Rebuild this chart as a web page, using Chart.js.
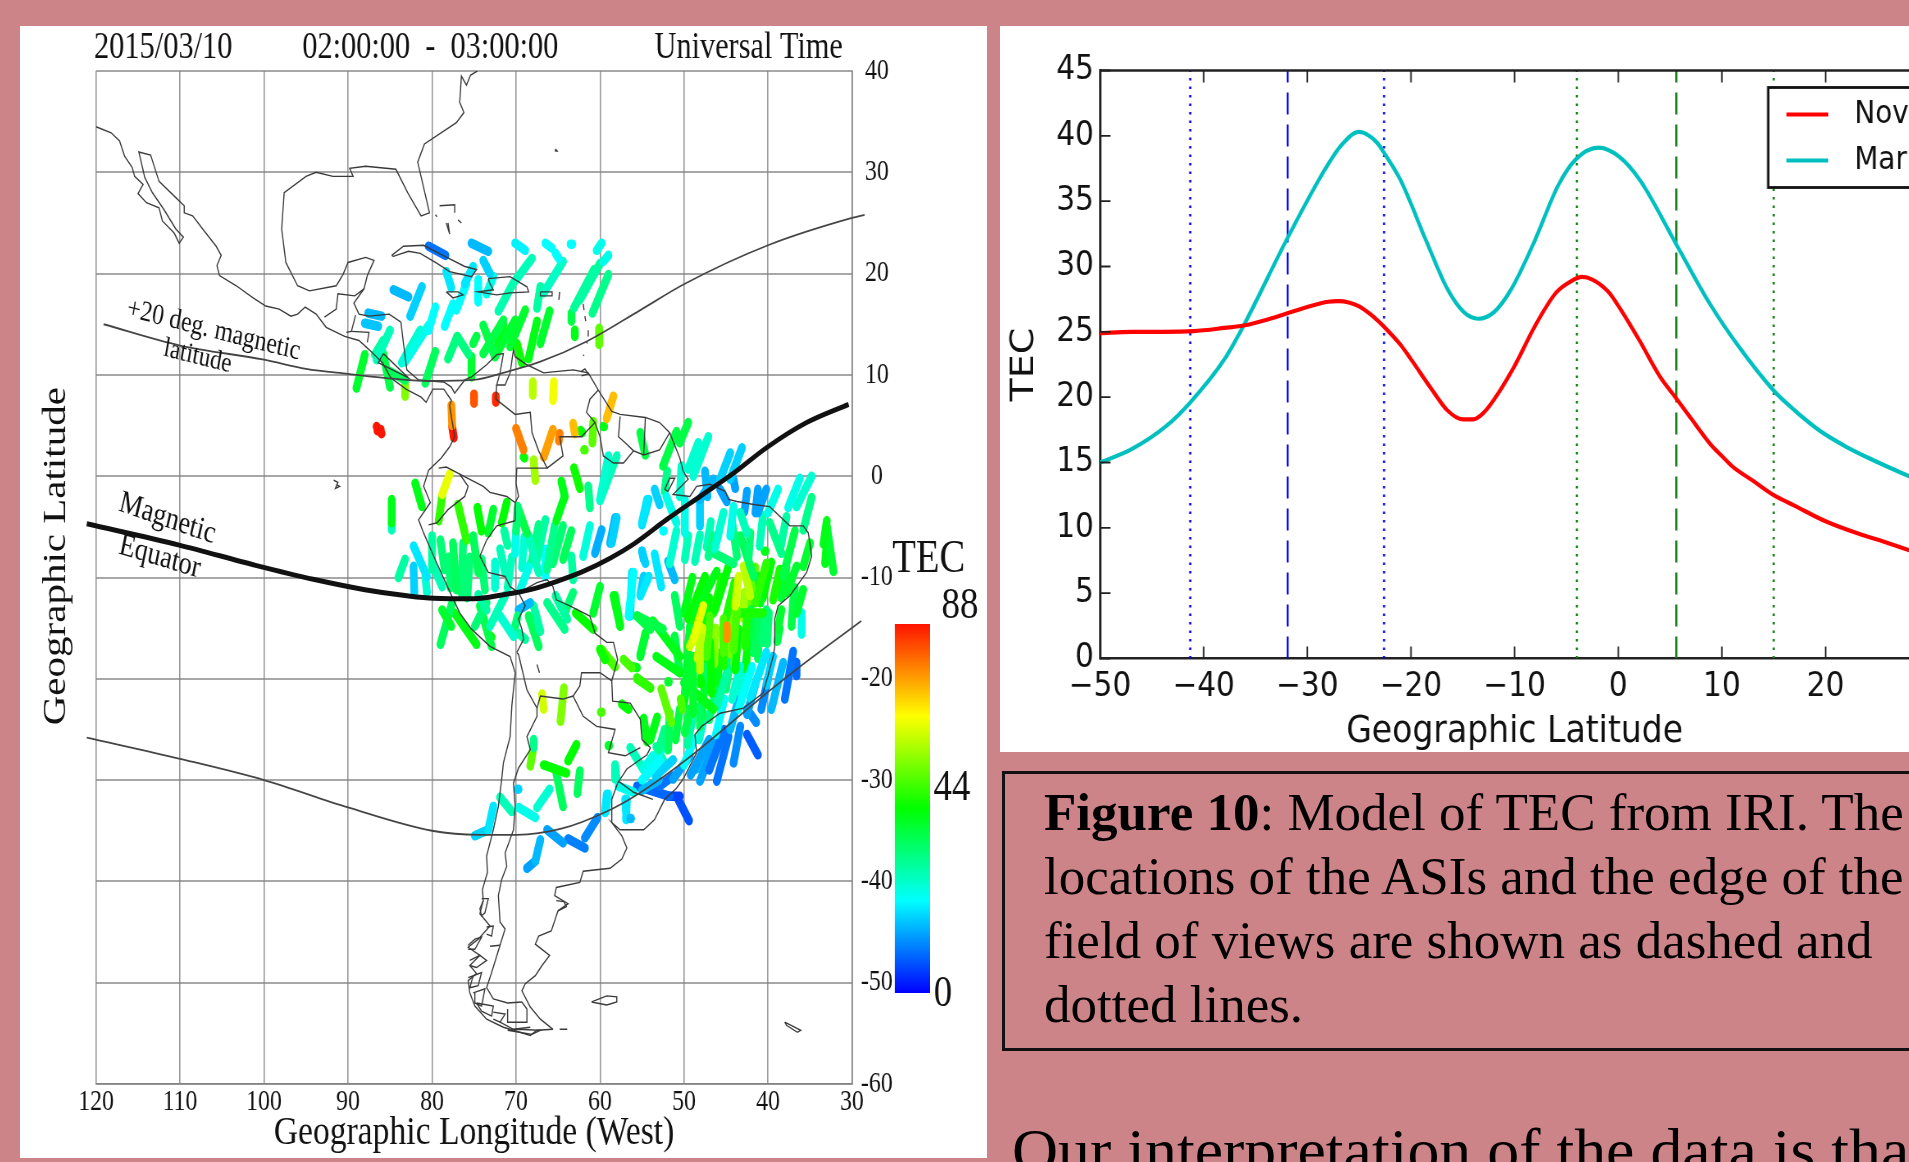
<!DOCTYPE html>
<html>
<head>
<meta charset="utf-8">
<title>Figure 10</title>
<script src="https://cdn.jsdelivr.net/npm/chart.js@4/dist/chart.umd.min.js"></script>
<style>
  html, body { margin: 0; height: 100%; background: #cd8488; overflow: hidden; }
  .panel { position: absolute; background: #fff; }
  canvas { position: absolute; transform-origin: 0 0; filter: blur(0.7px); }
  #captionBox { position: absolute; left: 1002px; top: 771px; width: 1000px; height: 274px; border: 3px solid #111; }
  .line { position: absolute; white-space: nowrap; transform-origin: 0 0; font-family: "Liberation Serif", serif; color: #000; filter: blur(0.4px); }
  .caption { left: 1044px; font-size: 53px; line-height: 60px; transform: scaleX(1); }
  .body { left: 1012px; top: 1115px; font-size: 62px; line-height: 70px; transform: scaleX(1.03); }
</style>
</head>
<body>
<div class="panel" style="left:20px;top:26px;width:967px;height:1132px"></div>
<div class="panel" style="left:1000px;top:26px;width:909px;height:726px"></div>
<canvas id="mapChart" width="1179" height="1132" style="left:20px;top:26px;transform:scaleX(0.82)"></canvas>
<canvas id="tecBar" width="134" height="500" style="left:880px;top:530px;transform:scaleX(0.82)"></canvas>
<canvas id="modelChart" width="1103" height="726" style="left:1000px;top:26px;transform:scaleX(0.87)"></canvas>
<div id="captionBox"></div>
<div class="line caption" style="top:782px"><b>Figure 10</b>: Model of TEC from IRI. The</div>
<div class="line caption" style="top:846px">locations of the ASIs and the edge of the</div>
<div class="line caption" style="top:910px">field of views are shown as dashed and</div>
<div class="line caption" style="top:974px">dotted lines.</div>
<div class="line body">Our interpretation of the data is that</div>
<script>
// ---- map panel: coastlines, [lon west, lat]
const coastWest = [[120,34.5],[118.2,33.9],[117.2,33.1],[116.6,31.6],[115.7,30.5],[115.4,29.6],[114.4,28.8],[115,27.9],[114,27],[112.5,26.5],[112.1,25.2],[110.7,24],[110.1,23],[109.6,23.6],[110.5,24.4],[111.9,26.3],[113.3,28],[114.2,29.5],[114.9,32],[113.5,31.7],[112.5,29.1],[110.5,27.5],[109.5,26.7],[109.5,26],[108.5,25.7],[107.3,24.4],[105.7,22.7],[105.1,21.8],[105.6,20.8],[105.3,19.8],[103.3,18.8],[101.3,17.6],[99.8,16.8],[98.2,16.5],[96.8,15.8],[96,16],[95.1,16.7],[93.8,16],[92.6,14.7],[90.4,13.8],[88.7,13.4],[87.5,12.5],[85.9,11.2],[84.9,9.7],[83.1,8.6],[81.3,7.8],[80.7,7.3],[79.9,8.6],[79.4,8.6],[78.6,8.6],[77.7,7.5],[77.9,7],[77.7,5.9],[77.3,3.9],[77.9,2.9],[78.9,1.8],[80.4,0.6],[81,-1],[80.2,-2.6],[81.6,-4.3],[81,-5.6],[79.8,-7.9],[78,-11.2],[76.7,-13.5],[75.3,-15.1],[73.1,-16.8],[70.7,-17.8],[70.1,-19.4],[70.5,-22.7],[70.7,-25.7],[71.5,-28.3],[71.7,-29.9],[72.1,-32.6],[72.7,-34.9],[73.5,-37.5],[73.4,-39.1],[74,-40.8],[73.9,-41.9],[74.3,-43.2],[73.1,-44.4],[74.5,-45.7],[75.7,-46.5],[74.3,-47.3],[75.5,-48.3],[74.7,-49.1],[75.7,-49.8],[75.5,-51],[74.9,-52.3],[73.5,-53.6],[71.5,-54.4],[68.3,-55.2],[67.5,-54.7],[65.6,-54.6]];
const coastGulf = [[83.7,15.2],[85.1,16],[87.5,15.8],[88.7,16],[89.3,17.1],[88.1,18.5],[87.7,19.8],[86.9,21.3],[87.9,21.6],[90,21.1],[90.6,19.9],[91.4,18.8],[94.6,18.3],[96,18.8],[97.4,21.1],[97.9,24.4],[97.6,28],[95,29.6],[93.8,30],[91.8,29.6],[89.4,29.6],[89.8,30.4],[87.9,30.6],[84.3,30.3],[82.9,28],[81.3,25.7],[80.3,26],[81.7,31],[80.9,32.8],[77.1,34.9],[76.2,35.9],[76.7,36.9],[76.5,39.5],[75.9,38.6],[75.4,39.6],[74.6,40]];
const coastCaribbean = [[83.7,15.2],[83.4,13.1],[83,10.5],[81.6,9.5],[80.2,9.4],[78.6,9.3],[77.7,8.8],[77.3,8.2],[76.1,9.5],[75.3,9.8],[73.5,11],[72.3,12],[71.5,12.1],[71.9,10.2],[72.3,9],[71.3,9],[70.7,10.2],[70.3,12.5],[70.1,11.8],[68.7,11],[66.7,10.2],[65.6,10.3],[63.2,10.5],[61.4,10.2],[60.2,8.5],[58.6,6.4],[57.6,6.1],[54.6,5.8],[52.9,5.3],[51.7,4.3],[50.5,1.8],[50.1,0.5],[49.5,-0.3],[51.3,-1.8],[49.3,-2],[48.5,-1],[46.9,-0.8],[45.1,-1.5],[44.7,-2.3],[43.7,-2.5],[41.7,-2.8],[39.8,-3],[37.4,-4.9],[35.8,-4.9],[35.2,-5.6],[34.8,-7.9],[35.4,-9.5],[37.4,-11.8],[38.8,-12.8],[39.2,-14.1],[39.2,-16.9],[39.4,-17.8],[40,-19.7],[40.6,-21.4],[42.9,-22.9],[45.7,-23.4],[47.9,-24.7],[48.7,-25.5],[48.5,-27.3],[50.1,-29.9],[50.9,-30.8],[52.3,-31.9],[53.5,-33.9],[54.8,-34.9],[57.6,-34.9],[58.6,-34.2],[57.4,-35.5],[56.8,-36.7],[57.4,-37.8],[58.8,-38.7],[62,-39],[62.4,-40.1],[65.2,-40.6],[65.4,-41.4],[63.8,-42.2],[65,-42.9],[65.8,-44.9],[67.3,-45.4],[67.7,-46.2],[66,-47.3],[66.9,-48.3],[67.7,-49.3],[68.9,-50.1],[69.3,-50.8],[68.5,-52.1],[68.3,-52.4],[67.1,-53.6],[65.6,-54.6]];
// national borders and inland lines
const borderAndes = [[69.9,-17.4],[69.7,-17.6],[68.7,-21.1],[67.5,-22.9],[67.5,-23.7],[68.7,-25.7],[68.3,-27],[69.7,-28.8],[70.3,-30.3],[70.1,-32.6],[70.3,-34.9],[71.3,-37.2],[71.1,-38.5],[71.7,-39.8],[72.1,-41.4],[71.9,-44],[71.3,-44.7],[71.9,-46.3],[72.9,-49],[73.5,-50.5],[72.7,-51.6],[71,-52],[69.3,-51.9]];
const borderBolivia = [[67.5,-22.9],[67.1,-21.7],[64.4,-22],[63.2,-21.7],[62.4,-20.7],[62.2,-19.4],[60,-19.4],[58.6,-20.2],[58.5,-22.2],[56.4,-22.4],[55.2,-24],[55,-26],[54,-26.8],[54.4,-27.5],[56.8,-28.9],[57.9,-30.3],[58.6,-31.9],[58.6,-34.2]];
const borderParaguay = [[63.2,-21.7],[62,-23.7],[60.4,-24.7],[58.2,-25],[59,-27.3],[57,-27.6],[55.2,-26.8]];
const borderBrazilWest = [[70.1,-4.4],[72.3,-4.9],[73.5,-6.3],[74.3,-7.9],[73.3,-9.5],[71.3,-9.9],[70.7,-10.9],[69.7,-11.5],[67.5,-10.5],[66.3,-10.2],[65.6,-10.9],[65.2,-12.2],[63.6,-12.8],[61.2,-13.8],[60.6,-15.5],[59.2,-16.4],[58.4,-16.4],[57.9,-18.1],[58.6,-20.2]];
const borderPeru = [[69.7,-11.5],[68.9,-12.8],[69.7,-14.1],[69.3,-15.1],[69.1,-16.1],[69.9,-17.4]];
const borderEcuador = [[80.4,-4.8],[79.4,-4.6],[78.1,-3.3],[76.1,-2],[75.7,-1],[76.7,0.2],[78.3,0.9],[79.2,0.8]];
const borderColombiaPeru = [[76.7,0.2],[73.9,-1],[73.1,-1.6],[71.1,-2],[70.1,-2.6],[70.1,-4.4]];
const borderColombia = [[72.3,9],[72.4,7.6],[70.1,6.1],[68.3,6.3],[68.1,4.3],[67.3,2.5],[66.3,0.8],[69.9,0.8],[70,-0.7],[69.7,-2],[70.1,-2.6]];
const borderVenezuela = [[66.3,0.8],[64.4,2],[64.8,3.9],[62.2,3.9],[60.6,5.3],[61.6,6.3],[61.2,7.6],[60.2,8.5]];
const borderGuianas = [[60.6,5.3],[60,3.9],[59.6,2],[58.4,1.3],[57.2,1.3],[56,2.5],[54.8,2.1],[52.9,2.6],[51.7,4.3]];
const borderGuyana = [[57.6,5.9],[57.8,3.9],[57,3.3],[56,2.5]];
const borderSuriname = [[54.6,5.8],[54.8,2.1]];
const borderUruguay = [[57.8,-30.1],[56,-31.2],[53.7,-31.9]];
const borderMexico = [[92.8,15.7],[91.4,16.5],[91.2,18],[89.2,17.8],[88.1,18.5]];
const borderIsthmus = [[89.1,15.9],[89.6,14.3],[90.2,14.2]];
const borderHonduras = [[89.6,14.3],[87.5,14.2],[87.7,13.2]];
const lakeNicaragua = [[85.8,12.1],[82.8,9.7],[86.4,11.2],[85.8,12.1]];
// islands
const islandCuba = [[84.8,21.8],[83.4,22.7],[81,22.8],[78.7,21.8],[76.1,20.7],[74.7,20.4],[75.3,19.7],[77.9,20.2],[79.4,21],[81.4,22],[82.8,22.2],[84.6,21.7],[84.8,21.8]];
const islandJamaica = [[78.3,18.2],[76.9,18.2],[76.3,17.9],[77.5,17.6],[78.3,18.2]];
const islandHispaniola = [[73.3,19.5],[70.7,19.7],[68.7,18.7],[68.5,18.2],[70.7,18.1],[72.3,17.9],[74.5,18.2],[72.7,18.4],[73.1,19],[73.3,19.5]];
const islandPuertoRico = [[67.1,18.2],[65.7,18.2],[65.7,17.8],[67.1,17.8],[67.1,18.2]];
const islandBahamas = [[79.1,26.7],[77.3,26.8],[77.3,26]];
const islandAndros = [[78.3,25],[77.9,23.9],[78.1,25]];
const islandAbaco = [[76.9,25.3],[76.5,25]];
const islandGrandBahama = [[79.6,25.8],[79.4,25.6]];
const islandGuadeloupe = [[64.8,18.2],[64.9,17.4]];
const islandAntillesA = [[62,17],[61.9,16.4]];
const islandAntillesB = [[61.8,15.8],[61.7,15.3]];
const islandAntillesC = [[61.4,14.4],[61.4,13.8]];
const islandAntillesD = [[61.6,13.3],[61.5,13.1]];
const islandGrenada = [[62,12],[61.9,11.9]];
const islandTrinidad = [[62.3,10.3],[61.8,10.6],[61.4,10.1],[62.2,9.9]];
const islandBermuda = [[65.3,32.3],[65.1,32.1],[65.3,32.1],[65.3,32.3]];
const islandGalapagos = [[91.7,-0.4],[91.2,-0.6],[91.5,-1.2],[91,-1],[91.4,-0.8]];
const islandMarajo = [[52.3,-1.3],[51.7,-0.2],[51.1,-0.2],[51.9,-1.5],[52.3,-1.3]];
const islandFalklands = [[61,-51.9],[59.2,-51.3],[58,-51.4],[58,-51.9],[59.2,-52.2],[61,-51.9]];
const islandSouthGeorgia = [[38,-53.9],[36.1,-54.7],[36.5,-54.9],[37.8,-54.2],[38,-53.9]];
const lakePoopo = [[67.5,-18.6],[67.2,-19.4]];
const valdes = [[65.2,-41.9],[64.3,-42],[64,-42.5],[65,-42.9]];
const chileFjords = [
  [[74.1,-41.7],[73.3,-41.7],[73.7,-43.1],[74.1,-43.4],[74.3,-42.7],[73.9,-41.9]],
  [[73.5,-44.5],[72.7,-44.4],[72.9,-45.4],[73.5,-45.2]],
  [[75.7,-46.3],[74.9,-45.7],[74.1,-45.5],[74.9,-46.7],[75.7,-46.7]],
  [[73.1,-46.4],[71.9,-46.3]],
  [[75.5,-47.8],[74.3,-47.3],[73.5,-47.8],[74.7,-48.5],[75.5,-48.3]],
  [[75.7,-49.5],[74.1,-49],[74.5,-50.3],[75.5,-50.5],[75.1,-49.3]],
  [[75.1,-51],[73.7,-50.6],[74.1,-52.3],[74.9,-52],[74.9,-51]],
  [[74.7,-52],[72.7,-52.3],[72.9,-53.3],[74.1,-52.8],[74.7,-52]],
  [[72.7,-52.9],[71.3,-53.1],[71.9,-53.9],[72.7,-53.6]],
  [[71,-52.6],[71,-53.9],[68.7,-53.9],[68.7,-52.6],[69.3,-51.9]],
  [[71,-54.7],[68.1,-55.1],[67.1,-54.7],[69.9,-54.6],[71,-54.7]],
  [[64.8,-54.6],[63.9,-54.6]],
  [[71.9,-53.9],[70.3,-54.6],[68.3,-54.4]]
];
const mapOutlines = [coastWest, coastGulf, coastCaribbean, borderAndes, borderBolivia, borderParaguay, borderBrazilWest, borderPeru, borderEcuador, borderColombiaPeru, borderColombia, borderVenezuela, borderGuianas, borderGuyana, borderSuriname, borderUruguay, borderMexico, borderIsthmus, borderHonduras, lakeNicaragua, islandCuba, islandJamaica, islandHispaniola, islandPuertoRico, islandBahamas, islandAndros, islandAbaco, islandGrandBahama, islandGuadeloupe, islandAntillesA, islandAntillesB, islandAntillesC, islandAntillesD, islandGrenada, islandTrinidad, islandBermuda, islandGalapagos, islandMarajo, islandFalklands, islandSouthGeorgia, lakePoopo, valdes, ...chileFjords];

// magnetic latitude lines
const magneticEquator = [[121.1,-4.7],[110.1,-6.8],[101,-8.8],[94,-10.2],[88,-11.2],[83,-11.8],[79.8,-12.05],[75,-12.1],[71.5,-11.7],[68.3,-11.2],[65.2,-10.4],[62,-9.4],[58.8,-8.1],[56,-6.7],[52.1,-4.3],[48.1,-2],[44.1,0.3],[40.2,2.8],[35.4,5.3],[30.4,7.1]];
const magneticPlus20 = [[119.1,15],[110,12.9],[100,11.5],[95,10.6],[90,10.1],[84.3,9.6],[80.3,9.4],[75.1,9.5],[71.1,10.3],[67.1,11.3],[61.6,13.3],[55.2,16.4],[49.9,19],[40,22.8],[30,25.5],[28.5,25.8]];
const magneticMinus20 = [[121.1,-25.8],[110,-27.9],[100,-30],[90,-32.7],[80,-35],[74.4,-35.4],[69.9,-35.4],[64.6,-34.8],[59.2,-33.1],[55.5,-31.4],[49.9,-28.1],[40,-21.3],[36.5,-19],[28.9,-14.3]];

// TEC tracks: lon0, lat0, lon1, lat1, tec
const tracksCaribbean = [[80.4,22.7,78.4,21.8,10],[75.3,23,73.3,22.2,16],[73.9,21.3,73.1,20,18],[70.1,23,68.9,22.3,21],[66.5,23,65.7,22.5,22],[65.3,22,64.9,21.5,22],[63.5,22.9,63.3,22.9,22],[59.8,23,60.4,22.3,24],[59,21.8,59.6,21.2,24],[68.1,21.5,70.1,19.3,28],[70.3,19.1,72.1,16.3,29],[64.4,21.2,66.7,18.1,27],[67.1,18.7,67.5,16.6,30],[60,21,62.4,17.4,30],[59,19.9,60.9,16.1,32],[60.7,20.4,63.1,16.6,31],[63.4,16.1,63.4,15.3,38],[63,14.4,63,13.8,42],[60.1,14.6,60.1,13,52],[75.1,20.7,76.1,19,20],[78.3,20.2,77.7,18.6,20],[75.9,19,77.1,16.4,22],[74.5,19.4,74.5,17.2,22],[72.7,19.7,73.5,18,24],[81.2,18.7,82.6,15.8,18],[84.6,18.4,82.8,17.7,16],[87.6,16.1,86,15.8,16],[88,15.1,86.4,14.8,17],[79.6,16.7,80.4,14.4,22],[77.5,17,78.5,14.8,22],[80.4,14.9,83.2,11.3,24],[81.4,14.4,83.6,11.2,26],[85,14.4,86.6,11.5,28],[85.8,13.4,86.8,12,30],[79.6,12.3,80.8,9.2,36],[88,12,89,8.7,40],[85.8,12.1,85,8.8,38],[85.4,10.5,83.2,9.5,36],[83.2,9.3,83.2,7.9,55],[77,13.8,78.1,11.6,33],[77,13.8,75.6,12,33],[74.7,13.8,75.1,13.1,38],[73.9,14.9,72.5,11.8,38],[71.5,15.4,73.9,12.1,38],[70.1,15.4,72.5,11.8,40],[68.9,16.4,70.7,12.8,40],[71.5,15,72.3,12.4,42],[75.3,11.8,75.3,9.8,40],[69.9,13.1,69.3,11.2,45],[66,16.3,67.1,13.1,40],[67.5,15.3,68.5,11.6,42],[68,9.3,68,8,60],[65.5,9.3,65.6,7.5,65],[75,8.1,75,7.2,82],[72.4,7.9,72.4,7.3,86],[77.7,7,77.6,5,76],[77.6,4.9,77.4,3.8,88],[86.6,4.9,86,4.2,88],[86.5,4.5,86.1,4.6,88],[58.4,7.9,59.2,5.7,72],[70,4.7,69.1,2.6,78],[65.6,4.6,66.7,1.9,75],[64.8,4.2,64.9,3.5,78],[67.9,1.6,67.7,-0.4,58],[63.2,5.2,63,4.2,72],[60.8,5.4,60.9,3.3,52],[59.6,4.9,59.5,4.9,42],[61.9,2.6,61.8,2.6,50],[69.1,1.9,69,1.8,44],[62.3,4.5,62.1,4.3,44]];
const tracksAmazonWest = [[77.9,0.2,78.8,-1.8,64],[78.8,-2,79.2,-4.4,48],[82,-0.7,81.2,-3,42],[84.8,-2.3,84.8,-4.6,42],[84.8,-4.7,84.8,-5.3,28],[76.9,-2.8,75.9,-6.3,48],[74.6,-3.1,74.1,-5.4,44],[72.7,-3.3,73.3,-5.6,40],[71.1,-2.6,71.7,-4.6,44],[69.8,-3,70,-5.4,34],[70,-5.5,70.1,-7.6,24],[69.7,-3.3,68.7,-5.6,38],[64.6,-0.5,64.2,-2,42],[64.2,-2,65.2,-4.4,42],[63.1,0.8,62.4,-1.2,45],[61.4,-1,61.2,-3.1,32],[59,2,60,-2.3,26],[58,2,60,-2.4,28],[55.2,4.3,54.6,2.1,38],[54.4,-2.3,55,-4.6,20],[58,-4.1,58.6,-6.6,18],[59.8,-5.3,60.6,-7.6,15],[61.2,-4.9,62,-7.9,25],[55,-7.4,54.6,-8.6,18],[80,-5.9,80,-9.2,30],[82.2,-6.9,80.6,-9.9,20],[83.2,-8.2,84,-10,30],[82.2,-8.9,82.1,-11.5,18],[80.8,-9.9,80.6,-11.5,26],[80,-8.6,78.8,-10.9,28],[79,-6.3,78.5,-9.2,34],[77.5,-6.6,77.1,-11.2,36],[76.3,-6.6,76.5,-11.5,34],[75.1,-5.9,74.5,-9.5,36],[74.1,-8.2,73.7,-11.2,34],[71.9,-7.2,71.3,-9.5,28],[71.4,-5.4,71,-6.8,30],[68.5,-5.9,67.3,-9.5,28],[67.3,-4.8,68.1,-8.2,32],[66.5,-4.3,67.5,-8.2,30],[65.4,-4.9,66.3,-9.2,32],[64.4,-4.9,65.6,-8.6,34],[63.4,-5.4,64.4,-8.2,36],[66.5,-7.2,66.5,-9.9,22],[68.3,-8.6,69.5,-11.2,24],[63.4,-7.9,63.2,-10.2,30],[60,-10.9,60.8,-13.5,40],[58.4,-11.8,57.6,-14.8,42],[56,-9.5,56.6,-13.8,22],[54.2,-9.9,55.2,-11.8,20],[55.6,-13.8,54,-15.1,38],[54.6,-15.5,55.2,-17.8,40],[60,-17.1,59.4,-18.1,45],[78.8,-13.2,77.7,-14.8,40],[77.6,-12.5,79,-16.6,36],[77.3,-13.5,74.7,-16.6,42],[74.5,-11.7,73.5,-13.2,30],[73.5,-12.5,74.9,-14.8,34],[71.3,-11.8,73.1,-14.8,28],[74.3,-12.8,72.9,-16.8,38],[71.9,-13.8,70.3,-15.8,26],[69.8,-13.8,70.1,-14.8,34],[73,-15.8,72.9,-15.9,44],[69.7,-15.5,68.9,-16.1,30],[68.3,-12.5,69.7,-13.2,16],[67.9,-12.8,67.1,-15.3,30],[68.5,-13.8,67.3,-16.8,36],[66.3,-12.5,64.2,-15.1,32],[65.3,-11.8,63.9,-14.1,30],[63.2,-11.5,64.2,-13.5,34],[62.9,-13.5,60.8,-15.1,44],[72.5,-8.5,72.5,-11,26],[70.5,-8,71,-11,28],[69,-6,69.3,-9,26],[75.5,-8,75.8,-12,34],[78,-8,77.8,-11,34]];
const tracksBrazilNorth = [[49.5,5.3,50.5,3.3,38],[50.9,4.4,52.5,1,38],[47.1,3.9,48.9,0,26],[48.3,3.3,49.5,0.7,26],[44.5,2.3,45.7,-0.3,18],[43.1,2.8,44.5,-0.3,18],[46.5,-0.3,48.1,-2.3,16],[44.1,-0.3,43.9,-1.2,14],[45.7,-1.3,44.9,-2.5,14],[41.2,-1.3,41.5,-3.6,14],[40.2,-1.3,41.2,-3.6,14],[38.8,-1.3,40,-3.6,24],[36.2,-0.2,37.6,-3.1,24],[34.8,0,36.6,-3,26],[34.8,-2.1,35.8,-5.3,32],[33,-4.4,33.4,-6.7,42],[33,-4.9,32.2,-9.4,40],[33,-6.6,33.2,-8.6,42],[53.5,-1.3,52.9,-2.8,18],[54.2,-2.3,55,-4.8,19],[52.1,-2,50.9,-4.6,24],[49.9,-2.3,49.9,-5.6,24],[48.1,-2.3,48.1,-4.9,18],[45.3,-3.6,46.3,-7.1,26],[44.1,-3,44.5,-5.9,24],[43.3,-3.6,42.5,-5.6,28],[58.2,-4.1,58.8,-6.6,16],[48.1,-5.8,48.7,-8.4,28],[50.9,-5.4,51.7,-8.6,26],[52.5,-5.4,52.4,-5.4,22],[49.5,-5.9,49.9,-8.2,28],[55,-7.4,54.8,-8.2,16],[53.5,-7.7,52.7,-10.9,20],[51.9,-8.4,51.1,-10.2,16],[46.5,-5.9,47.1,-7.9,32],[46.9,-7.4,44.1,-8.6,34],[44.3,-4.4,43.7,-7.9,34],[42.1,-5.6,42.3,-7.9,34],[43.3,-5.9,41.7,-9.9,36],[40.6,-3.9,41,-6.9,28],[39.8,-4.6,38.4,-7.6,32],[36.8,-5.4,38.2,-9.9,38],[35,-6.6,35.8,-8.9,40],[40.4,-7.4,40.3,-7.4,42],[54.8,-9.9,55.2,-11.7,18],[56.2,-9.5,56.4,-13.8,20],[58.2,-11.8,57.6,-14.8,40],[51.1,-11.8,50.5,-14.8,36],[55.6,-13.8,52.5,-15.1,38],[54.6,-15.8,55.2,-17.6,38],[53.7,-14.3,50.5,-17.8,42],[50.3,1,50.5,-2,26],[52,0.5,52.3,-1.5,32],[47.5,0.5,47.2,-2,16],[42.5,-1.5,42.8,-3.5,14],[46.8,-4.5,47.3,-7,28],[37.8,-4,38.5,-7,30]];
const tracksBrazilCenter = [[46.1,-9.4,48.7,-13.5,42],[47.5,-9.9,49.5,-14.1,44],[44.7,-8.9,46.3,-13.2,44],[42.9,-8.9,42.1,-11.8,60],[43.5,-9.9,43.9,-12.8,62],[40.2,-8.6,41.5,-12.5,48],[38.6,-9.2,39.4,-12.2,46],[41.1,-9.9,40.9,-12.5,42],[36.6,-8.9,37.8,-11.5,40],[35.8,-11.2,36.6,-13.5,40],[36,-13.5,36,-15.6,24],[37,-12.2,37.2,-14.8,38],[38.4,-13.2,38.8,-15.1,40],[46.9,-13.8,47.3,-17.8,50],[45.3,-14.1,45.3,-17.4,50],[43.7,-13.2,44.1,-17.1,50],[42.5,-13.5,42.7,-16.8,46],[43.5,-13.5,40.6,-13.5,46],[42,-13.2,42.1,-15.8,38],[40.2,-13.2,40.6,-16.4,34],[38.6,-15,38.9,-16.3,38],[53.3,-17.8,50.5,-19.4,42],[51.1,-15.8,50.5,-19.4,38],[57.2,-18.1,56.2,-18.9,50],[56.1,-18.8,55.6,-18.9,42],[59.8,-17.1,58.2,-18.8,50],[55.6,-19.9,54,-20.9,48],[52.7,-21,51.5,-24.3,52],[51.9,-20.3,51.8,-20.3,40],[50.4,-22,50.2,-23,50],[57.4,-22.5,56.6,-23,44],[59.9,-23.3,59.8,-23.3,50],[49.3,-14.8,49.9,-21.4,40],[46.9,-16.4,46.7,-21.4,44],[45.3,-16.1,45.3,-18.7,46],[43.5,-15.1,43.9,-19.1,44],[41.4,-14.4,41.7,-17.4,36],[48.9,-17.8,48.9,-23.4,40],[47.7,-18.8,46.5,-21,36],[50,-20.4,46.5,-23,42],[51.7,-23.4,51.9,-27,36],[48.1,-22.7,48.1,-24.7,36],[49.3,-23,49.9,-25.3,38],[44.9,-19.4,46.1,-22.7,30],[43.3,-18.8,44.3,-22,26],[41.9,-18.8,43.5,-23,22],[40.2,-17.4,42.1,-21.9,20],[39.4,-17.8,40.2,-20.6,18],[38.2,-18.4,39.6,-23,16],[37,-17.3,38,-22,10],[36.6,-18.4,36.6,-19.7,9]];
const tracksBrazilInfill = [[49,-10,50,-13.5,42],[47,-12,47.8,-15,44],[45.5,-10,46.5,-13.5,46],[44,-10.5,45,-14,46],[42.8,-11.5,43,-14,58],[41.5,-9,42.4,-13,52],[39.6,-8.5,40.6,-12,44],[37.8,-9,38.4,-12,40],[36.8,-11,37,-13,38],[49,-14,49.6,-17,46],[46.2,-15,46.4,-18.5,56],[44.5,-13.5,44.6,-17.5,54],[43.8,-15,44,-18.5,56],[42.4,-15.5,42.6,-19,44],[41,-14,41.2,-18,36],[39.9,-13.5,40.1,-16.5,34],[47.6,-17.5,48,-20.5,44],[45.8,-17.5,46,-21,42],[44.5,-18,45,-21,34],[42.6,-18,43.2,-21.5,26],[49.5,-19.5,50,-22.5,42],[47.5,-20.5,48,-24,40],[46,-20.5,47,-24,34],[50.5,-23,51,-26,38],[49,-24,49.6,-26.5,30],[47.5,-23.5,48.2,-26,26],[45.2,-22,46.2,-25.5,22],[43.5,-22,44.5,-25,16],[41.5,-20.5,42.5,-23.5,14],[40,-20,40.8,-23,12],[48.8,-26,50,-28.5,22],[52.3,-25,53,-27,32],[53.2,-23.8,54,-26,42],[47,-26,49.2,-29.5,14],[45.2,-25,47,-29,10],[52.8,-28,55,-30,22],[51.3,-28,53.4,-29.6,18],[53,-30,55,-31,16]];
// brightest patches, drawn on top of the green
const tracksBrazilPeak = [[47.7,-12.8,48.9,-16.1,64],[48.1,-14.8,49.3,-16.8,62],[48.1,-15.8,48.1,-19.1,60],[47.8,-15,48.4,-18,62],[44.9,-14.8,44.9,-16,76]];
const tracksSouth = [[42.5,-23,41.4,-24.3,12],[42.5,-25.5,41.2,-27.5,8],[43.3,-24.7,44.1,-28.3,12],[44.7,-25.7,46.1,-30.1,10],[46.1,-26,48.1,-30.1,14],[47.3,-27.3,48.5,-28.9,16],[49.3,-27.6,51.3,-29.9,14],[52.1,-26.3,54,-28.6,24],[53.7,-27.6,54.8,-28.9,24],[51.3,-29.6,52.9,-30.6,10],[57.8,-30.6,56,-31.2,24],[55.6,-30.6,51.7,-31.6,9],[51.9,-31.6,50.5,-31.6,6],[50.7,-31.9,49.4,-34,7],[56.4,-33.8,56.3,-33.8,16],[59.2,-31.4,59.4,-33.2,20],[57,-31.9,56.9,-33.1,20],[58.2,-28.5,58.2,-29.9,28],[56.4,-26.8,54.8,-29,28],[59,-26.6,58.9,-26.6,40],[54.8,-23.9,54.4,-26.2,42],[66.9,-21.5,66.7,-23,62],[64.3,-20.9,64.7,-24.2,55],[62.8,-26.5,63.8,-28.1,44],[67.9,-26,67.9,-26.8,32],[68,-27.1,68.3,-28.6,52],[66.7,-28.5,64,-29.3,44],[65.2,-29.3,64.4,-32.6,36],[62.4,-29.1,62.7,-31.3,36],[69.8,-30.9,69.7,-30.9,18],[66,-30.9,67.5,-32.7,26],[71.9,-31.7,70.5,-33.1,28],[69.7,-32.7,67.7,-33.7,24],[72.7,-32.6,73.3,-34.9,20],[73.3,-34.9,74.9,-35.5,18],[67.1,-35.9,67.7,-38,16],[67.7,-38,68.7,-38.7,14],[66.3,-34.9,64.4,-36.2,14],[63.8,-35.8,61.8,-36.7,11],[60.3,-33.7,61.8,-35.7,12],[59,-31.4,59.3,-33.1,22],[56.8,-31.9,56.9,-33.9,20],[58.2,-28.6,58,-29.9,26],[60,-17.1,58.2,-18.8,50],[55.6,-20,54,-20.9,48],[53.3,-26.7,52.4,-28.2,30]];
// first in the list is drawn last
const allTracks = [...tracksBrazilPeak, ...tracksCaribbean, ...tracksAmazonWest, ...tracksBrazilNorth, ...tracksBrazilCenter, ...tracksBrazilInfill, ...tracksSouth];

const lonTicks = [120, 110, 100, 90, 80, 70, 60, 50, 40, 30];
const latTicks = [40, 30, 20, 10, 0, -10, -20, -30, -40, -50, -60];
const tecTicks = [0, 44, 88];

// ---- model panel
const novLat = [-50,-47,-44,-41,-38,-36,-34,-32,-30,-28,-27,-26,-25,-24,-23,-22.5,-21,-20,-18,-16.5,-15,-14,-13,-12,-10,-8,-6,-4.5,-3.5,-2.5,-1,0,2,4,5.5,7,9,10,11,13,15,17,20,23,25,28,30];
const novTec = [24.9,25,25,25.05,25.3,25.5,25.9,26.4,26.9,27.3,27.35,27.25,26.95,26.4,25.7,25.3,24,22.9,20.6,19,18.3,18.3,18.8,19.8,22.4,25.5,28,28.9,29.2,29,28.1,27,24.4,21.6,20,18.4,16.3,15.5,14.7,13.6,12.5,11.7,10.5,9.6,9.1,8.3,7.8];
const marLat = [-50,-47,-43.6,-41.3,-38,-36.2,-31.9,-28.4,-26.7,-25,-23.3,-22.6,-21,-18.5,-16.5,-14.9,-13.5,-12,-10.3,-8.1,-5.8,-4.1,-1.9,0.1,2.1,5.6,8.8,11.6,15,17,19.5,22,24,27.9,30];
const marTec = [15,16,17.8,19.6,22.9,25.4,32.2,37.3,39.3,40.3,39.5,38.7,36.6,31.9,28.3,26.5,26,26.5,28.3,31.9,36.2,38.2,39.1,38.4,36.6,31.7,27.2,23.9,20.5,19,17.4,16.2,15.4,14,13.3];
const asiBlue = [-31.9];
const fovBlue = [-41.3, -22.6];
const asiGreen = [5.6];
const fovGreen = [-4, 15];
const seriesNames = ["Nov", "Mar"];

const toPoints = rows => rows.map(r => ({ x: r[0], y: r[1] }));

// same stops as the colour bar
const tecStops = [[0, [0, 0, 255]], [22, [0, 255, 255]], [44, [0, 255, 0]], [66, [255, 255, 0]], [88, [255, 20, 0]]];
function tecColor(v) {
  for (let i = 1; i < tecStops.length; i++) {
    if (v <= tecStops[i][0]) {
      const a = tecStops[i - 1], b = tecStops[i];
      const t = (v - a[0]) / (b[0] - a[0]);
      const c = a[1].map((k, j) => Math.round(k + (b[1][j] - k) * t));
      return `rgb(${c[0]},${c[1]},${c[2]})`;
    }
  }
  return "rgb(255,20,0)";
}

const serif = "'Liberation Serif', serif";
const sans = "'DejaVu Sans', sans-serif";

// text laid over the map, anchored on the map axes
const mapNotes = [
  { text: "2015/03/10", lon: 112, lat: 42.2, size: 37 },
  { text: "02:00:00  -  03:00:00", lon: 80.2, lat: 42.2, size: 37 },
  { text: "Universal Time", lon: 42.3, lat: 42.2, size: 37 },
  { text: "+20 deg. magnetic", lon: 106, lat: 14.4, size: 29, rot: 11.7 },
  { text: "latitude", lon: 107.9, lat: 11.8, size: 28, rot: 11.7 },
  { text: "Magnetic", lon: 111.5, lat: -4.2, size: 32, rot: 16 },
  { text: "Equator", lon: 112.4, lat: -8, size: 32, rot: 14 },
  { text: "Geographic Latitude", lon: 124.7, lat: -7.9, size: 41, rot: -90 },
];

const mapNotesPlugin = {
  id: "mapNotes",
  afterDraw(chart) {
    const { ctx, scales } = chart;
    ctx.save();
    ctx.fillStyle = "#111";
    ctx.textAlign = "center";
    ctx.textBaseline = "middle";
    mapNotes.forEach(n => {
      ctx.save();
      ctx.translate(scales.x.getPixelForValue(n.lon), scales.y.getPixelForValue(n.lat));
      if (n.rot) ctx.rotate(n.rot * Math.PI / 180);
      ctx.font = `${n.size}px ${serif}`;
      ctx.fillText(n.text, 0, 0);
      ctx.restore();
    });
    ctx.restore();
  },
};

const outlineSets = mapOutlines.map(rows => ({
  data: toPoints(rows), showLine: true, pointRadius: 0, borderColor: "#3a3a3a", borderWidth: 1.4,
}));
const curveSets = [
  { data: toPoints(magneticEquator), borderColor: "#111", borderWidth: 5 },
  { data: toPoints(magneticPlus20), borderColor: "#444", borderWidth: 1.8 },
  { data: toPoints(magneticMinus20), borderColor: "#444", borderWidth: 1.8 },
].map(d => ({ ...d, showLine: true, pointRadius: 0, cubicInterpolationMode: "monotone", clip: false }));
const trackSets = allTracks.map(t => ({
  data: [{ x: t[0], y: t[1] }, { x: t[2], y: t[3] }],
  showLine: true, pointRadius: 0, borderColor: tecColor(t[4]), borderWidth: 9.5, borderCapStyle: "round",
}));

new Chart(document.getElementById("mapChart"), {
  type: "scatter",
  data: { datasets: [...curveSets, ...outlineSets, ...trackSets] },
  plugins: [mapNotesPlugin],
  options: {
    responsive: false,
    animation: false,
    layout: { padding: { top: 45, left: 92.7 } },
    plugins: { legend: { display: false }, tooltip: { enabled: false } },
    scales: {
      x: {
        type: "linear", reverse: true, min: 30, max: 120,
        grid: { color: "rgba(120,120,120,0.75)", lineWidth: 1.6, drawTicks: false },
        border: { color: "rgba(120,120,120,0.75)", width: 1.6 },
        afterBuildTicks: s => { s.ticks = lonTicks.map(v => ({ value: v })); },
        ticks: { color: "#111", padding: 1, maxRotation: 0, autoSkip: false, font: { family: serif, size: 29 } },
        title: { display: true, text: "Geographic Longitude (West)", color: "#111", padding: { top: 0, bottom: 0 }, font: { family: serif, size: 41 } },
        afterFit: s => { s.height = 74; },
      },
      y: {
        type: "linear", position: "right", min: -60, max: 40,
        grid: { color: "rgba(130,130,130,0.7)", lineWidth: 2, drawTicks: false },
        border: { color: "rgba(120,120,120,0.75)", width: 1.6 },
        afterBuildTicks: s => { s.ticks = latTicks.map(v => ({ value: v })); },
        ticks: { color: "#111", padding: 11, crossAlign: "center", autoSkip: false, font: { family: serif, size: 29 } },
        afterFit: s => { s.width = 164.4; },
      },
    },
  },
});

// colour bar
const tecBarNotes = [
  { text: "TEC", value: 88, dx: 0, dy: -64, size: 47 },
  { text: String(tecTicks[2]), value: tecTicks[2], dx: 30, dy: -18, size: 45 },
  { text: String(tecTicks[1]), value: tecTicks[1], dx: 22, dy: -20, size: 45 },
  { text: String(tecTicks[0]), value: tecTicks[0], dx: 13, dy: 1, size: 45 },
];
const tecBarPlugin = {
  id: "tecBarNotes",
  afterDraw(chart) {
    const { ctx, chartArea, scales } = chart;
    ctx.save();
    ctx.fillStyle = "#111";
    ctx.textBaseline = "middle";
    ctx.textAlign = "center";
    tecBarNotes.forEach(n => {
      ctx.font = `${n.size}px ${serif}`;
      const left = chartArea.right + n.dx / 0.82;
      const x = n.text === "TEC" ? (chartArea.left + chartArea.right) / 2 + 20 : left;
      ctx.fillText(n.text, x, scales.y.getPixelForValue(n.value) + n.dy);
    });
    ctx.restore();
  },
};
new Chart(document.getElementById("tecBar"), {
  type: "bar",
  data: {
    labels: ["TEC"],
    datasets: [{
      data: [[tecTicks[0], tecTicks[2]]],
      barPercentage: 1,
      categoryPercentage: 1,
      backgroundColor(c) {
        const a = c.chart.chartArea;
        if (!a) return "#000";
        const g = c.chart.ctx.createLinearGradient(0, a.bottom, 0, a.top);
        tecStops.forEach(s => g.addColorStop(s[0] / 88, `rgb(${s[1].join(",")})`));
        return g;
      },
    }],
  },
  plugins: [tecBarPlugin],
  options: {
    responsive: false,
    animation: false,
    layout: { padding: { left: 18, right: 73, top: 94, bottom: 37 } },
    plugins: { legend: { display: false }, tooltip: { enabled: false } },
    scales: {
      x: { display: false },
      y: { display: false, min: 0, max: 88 },
    },
  },
});

// ---- model chart: inward ticks, matplotlib style legend
const inwardTicks = {
  id: "inwardTicks",
  afterDraw(chart) {
    const { ctx, chartArea: a, scales } = chart;
    ctx.save();
    ctx.strokeStyle = "#222";
    ctx.lineWidth = 1.8;
    ctx.beginPath();
    scales.x.ticks.forEach(t => {
      const x = scales.x.getPixelForValue(t.value);
      ctx.moveTo(x, a.bottom); ctx.lineTo(x, a.bottom - 12);
      ctx.moveTo(x, a.top); ctx.lineTo(x, a.top + 12);
    });
    scales.y.ticks.forEach(t => {
      const y = scales.y.getPixelForValue(t.value);
      ctx.moveTo(a.left, y); ctx.lineTo(a.left + 12, y);
      ctx.moveTo(a.right, y); ctx.lineTo(a.right - 12, y);
    });
    ctx.stroke();
    // top spine
    ctx.lineWidth = 2.5;
    ctx.beginPath();
    ctx.moveTo(a.left, a.top);
    ctx.lineTo(a.right, a.top);
    ctx.stroke();
    // legend frame, anchored top right of the axes
    const top = a.top + 17, h = 100, left = a.right - 185, w = 170;
    ctx.fillStyle = "#fff";
    ctx.strokeStyle = "#111";
    ctx.lineWidth = 2.8;
    ctx.fillRect(left, top, w, h);
    ctx.strokeRect(left, top, w, h);
    ctx.font = `32px ${sans}`;
    ctx.textBaseline = "middle";
    [chart.data.datasets[0], chart.data.datasets[1]].forEach((d, i) => {
      const y = top + 27 + i * 46;
      ctx.strokeStyle = d.borderColor;
      ctx.lineWidth = 4.2;
      ctx.beginPath();
      ctx.moveTo(left + 21, y);
      ctx.lineTo(left + 69, y);
      ctx.stroke();
      ctx.fillStyle = "#111";
      ctx.fillText(d.label, left + 99, y);
    });
    ctx.restore();
  },
};

const vline = (x, color, dash, width) => ({
  data: [{ x, y: 0 }, { x, y: 45 }], borderColor: color, borderDash: dash, borderWidth: width,
  showLine: true, pointRadius: 0, label: "",
});
new Chart(document.getElementById("modelChart"), {
  type: "scatter",
  data: {
    datasets: [
      { label: seriesNames[0], data: novLat.map((x, i) => ({ x, y: novTec[i] })), borderColor: "#ff0000", borderWidth: 4.2, showLine: true, pointRadius: 0, cubicInterpolationMode: "monotone" },
      { label: seriesNames[1], data: marLat.map((x, i) => ({ x, y: marTec[i] })), borderColor: "#00bfbf", borderWidth: 4.2, showLine: true, pointRadius: 0, cubicInterpolationMode: "monotone" },
      ...asiBlue.map(x => vline(x, "#0000ff", [22, 10], 2)),
      ...fovBlue.map(x => vline(x, "#0000ff", [2.5, 6], 2.5)),
      ...asiGreen.map(x => vline(x, "#108010", [22, 10], 2.4)),
      ...fovGreen.map(x => vline(x, "#108010", [2.5, 6], 2.5)),
    ],
  },
  plugins: [inwardTicks],
  options: {
    responsive: false,
    animation: false,
    layout: { padding: { top: 44.5 } },
    plugins: { legend: { display: false }, tooltip: { enabled: false } },
    scales: {
      x: {
        type: "linear", min: -50, max: 30,
        grid: { display: false, drawTicks: false },
        border: { color: "#222", width: 2.5 },
        ticks: { stepSize: 10, color: "#111", padding: 8, maxRotation: 0, font: { family: sans, size: 34 }, callback: v => String(v).replace("-", "\u2212") },
        title: { display: true, text: "Geographic Latitude", color: "#111", padding: { top: 3, bottom: -3 }, font: { family: sans, size: 38 } },
        afterFit: s => { s.height = 93.5; },
      },
      y: {
        type: "linear", min: 0, max: 45,
        grid: { display: false, drawTicks: false },
        border: { color: "#222", width: 2.5 },
        ticks: { stepSize: 5, color: "#111", padding: 7, font: { family: sans, size: 34 } },
        title: { display: true, text: "TEC", color: "#111", padding: { top: 5, bottom: 14 }, font: { family: sans, size: 38 } },
        afterFit: s => { s.width = 115; },
      },
      // keeps the frame closed on the right
      yRight: {
        type: "linear", position: "right", min: 0, max: 45,
        grid: { display: false }, ticks: { display: false },
        border: { color: "#222", width: 2.5 },
        afterFit: s => { s.width = 35; },
      },
    },
  },
});
</script>
</body>
</html>
